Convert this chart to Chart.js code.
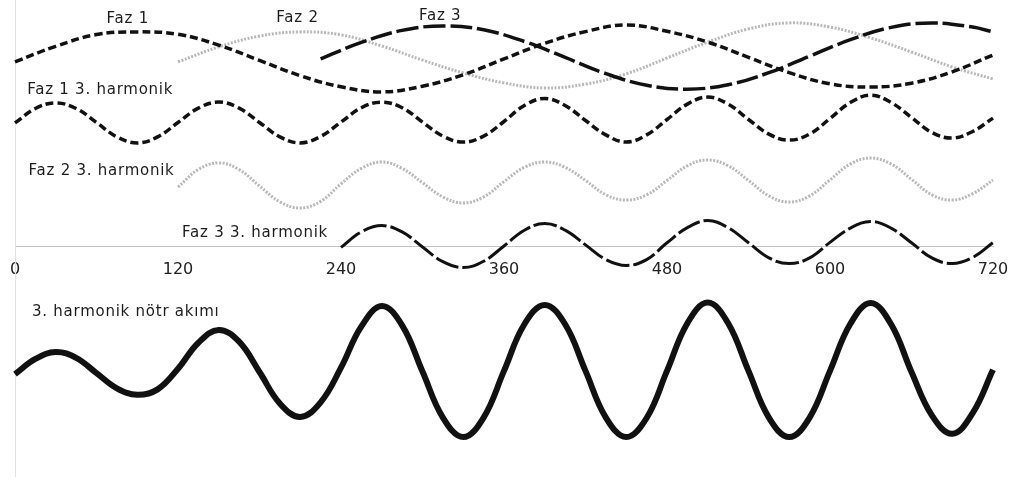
<!DOCTYPE html>
<html>
<head>
<meta charset="utf-8">
<script src="https://cdn.jsdelivr.net/npm/chart.js@4"></script>
<style>
html,body{margin:0;padding:0;background:#fff}
#wrap{width:1019px;height:477px}
</style>
</head>
<body>
<div id="wrap"><canvas id="harm" width="1019" height="477"></canvas></div>
<script>
// degrees
const fundDeg = [0,30,60,90,120,150,180,210,240,270,300,330,360,390,420,450,480,510,540,570,600,630,660,690,720];
const faz2Deg = [120,150,180,210,240,270,300,330,360,390,420,450,480,510,540,570,600,630,660,690,720];
const faz3Deg = [225,255,285,315,345,375,405,435,465,495,525,555,585,615,645,675,705,720];
const harmDeg = [0,15,30,45,60,75,90,105,120,135,150,165,180,195,210,225,240,255,270,285,300,315,330,345,
  360,375,390,405,420,435,450,465,480,495,510,525,540,555,570,585,600,615,630,645,660,675,690,705,720];
const xTicks = [0,120,240,360,480,600,720];

// fundamentals
const faz1 = [-0.13,0.39,0.78,0.87,0.79,0.43,-0.08,-0.59,-0.96,-1.13,-0.94,-0.56,-0.03,0.49,0.88,1.10,0.89,0.53,0.02,-0.49,-0.86,-0.97,-0.84,-0.46,0.10];
const faz2 = [-0.13,0.37,0.73,0.87,0.77,0.40,-0.07,-0.50,-0.83,-1.00,-0.87,-0.53,0.00,0.53,0.97,1.17,1.03,0.67,0.20,-0.30,-0.70];
const faz3 = [-0.03,0.52,0.92,1.07,0.94,0.55,0.02,-0.52,-0.91,-1.04,-0.89,-0.49,0.06,0.61,1.02,1.17,1.03,0.87];

// 3rd harmonics
const faz1H = [-0.02,0.70,0.98,0.70,0.00,-0.72,-1.02,-0.72,0.00,0.72,1.02,0.72,0.00,-0.72,-1.02,-0.70,0.02,0.74,1.02,0.74,0.02,-0.68,-0.98,-0.68,
  0.05,0.85,1.20,0.85,0.10,-0.62,-0.98,-0.62,0.15,0.92,1.27,0.92,0.15,-0.58,-0.88,-0.58,0.20,1.00,1.37,1.00,0.25,-0.50,-0.78,-0.45,0.22];
const faz2H = [-0.05,0.75,1.05,0.75,0.00,-0.72,-1.00,-0.70,0.10,0.80,1.09,0.80,0.15,-0.50,-0.77,-0.50,0.20,0.85,1.09,0.85,0.25,
  -0.40,-0.64,-0.40,0.25,0.92,1.18,0.92,0.25,-0.45,-0.73,-0.45,0.28,1.00,1.27,1.00,0.30,-0.40,-0.64,-0.35,0.27];
const faz3H = [-0.02,0.72,1.02,0.72,0.00,-0.70,-0.98,-0.68,0.05,0.80,1.12,0.80,0.10,-0.60,-0.88,-0.60,0.20,0.92,1.26,0.92,0.20,
  -0.52,-0.79,-0.52,0.22,0.90,1.21,0.90,0.20,-0.52,-0.79,-0.50,0.21];
const notr = [-0.10,0.60,0.92,0.65,-0.05,-0.75,-1.05,-0.80,0.15,1.35,1.94,1.40,0.00,-1.45,-2.07,-1.40,0.20,2.10,3.04,2.15,0.02,-2.10,-3.00,-2.10,
  0.05,2.20,3.09,2.20,0.05,-2.10,-3.00,-2.12,0.05,2.25,3.20,2.25,0.05,-2.10,-3.00,-2.10,0.05,2.22,3.18,2.20,0.00,-2.00,-2.85,-1.90,0.10];

const labelTexts = ['Faz 1','Faz 2','Faz 3','Faz 1 3. harmonik','Faz 2 3. harmonik','Faz 3 3. harmonik','3. harmonik nötr akımı'];
const labelSpots = [
  {x:83, axis:'yA', y:1.30, align:'center'},
  {x:208, axis:'yA', y:1.33, align:'center'},
  {x:313, axis:'yA', y:1.38, align:'center'},
  {x:9, axis:'yB', y:1.625, align:'left'},
  {x:10, axis:'yC', y:0.68, align:'left'},
  {x:123, axis:'yD', y:0.667, align:'left'},
  {x:12.5, axis:'yE', y:2.77, align:'left'}
];

const pts = (d, v) => d.map((x, i) => ({x: x, y: v[i]}));
const INK = '#111';
const GRAY = '#b8b8b8';

function band(weight, stackWeight, min, max){
  return {
    type:'linear', axis:'y', position:'left', stack:'bands', stackWeight, weight, min, max,
    ticks:{display:false}, grid:{display:false, drawTicks:false},
    border:{display:true, color:'#e2e2e2', width:1, dash:[4,9]}
  };
}

function line(label, data, axis, color, width, dash){
  return {label, data, yAxisID:axis, borderColor:color, borderWidth:width, borderDash:dash,
    pointRadius:0, fill:false, tension:0.4, clip:false, borderCapStyle:'butt'};
}

const textLabels = {
  id:'textLabels',
  afterDatasetsDraw(chart){
    const ctx = chart.ctx;
    const xs = chart.scales.x;
    ctx.save();
    ctx.font = '15px "DejaVu Sans"';
    ctx.letterSpacing = '0.75px';
    ctx.fillStyle = '#1c1c1c';
    ctx.textBaseline = 'middle';
    labelTexts.forEach((t, i) => {
      const s = labelSpots[i];
      ctx.textAlign = s.align;
      ctx.fillText(t, xs.getPixelForValue(s.x), chart.scales[s.axis].getPixelForValue(s.y));
    });
    ctx.restore();
  }
};

new Chart(document.getElementById('harm'), {
  type:'line',
  data:{datasets:[
    line('Faz 1', pts(fundDeg, faz1), 'yA', INK, 3.5, [8,4]),
    line('Faz 3', pts(faz3Deg, faz3), 'yA', INK, 3.5, [22,5]),
    line('Faz 1 3. harmonik', pts(harmDeg, faz1H), 'yB', INK, 3.5, [8,4]),
    line('Faz 3 3. harmonik', pts(harmDeg.slice(16), faz3H), 'yD', INK, 3, [24,4]),
    line('3. harmonik nötr akımı', pts(harmDeg, notr), 'yE', INK, 6, []),
    line('Faz 2', pts(faz2Deg, faz2), 'yA', GRAY, 3, [2,1.5]),
    line('Faz 2 3. harmonik', pts(harmDeg.slice(8), faz2H), 'yC', GRAY, 3, [2,1.5])
  ]},
  options:{
    responsive:false, animation:false, devicePixelRatio:1,
    layout:{padding:{left:15, right:26, top:0, bottom:0}},
    plugins:{legend:{display:false}, tooltip:{enabled:false}},
    scales:{
      x:{type:'linear', min:0, max:720, position:{yD:0},
        afterBuildTicks: s => { s.ticks = xTicks.map(v => ({value:v})); },
        afterFit: s => { s.paddingLeft = 0; s.paddingRight = 0; },
        ticks:{font:{family:'DejaVu Sans', size:16}, color:'#222', padding:13, maxRotation:0, autoSkip:false},
        grid:{display:false, drawTicks:false},
        border:{display:true, color:'#c4c4c4', width:1, dash:[3,2]}},
      yA: band(5, 105, -1.567, 1.933),
      yB: band(4, 50, -1.625, 0.875),
      yC: band(3, 61, -1.364, 1.409),
      yD: band(2, 74, -2.048, 1.476),
      yE: band(1, 187, -4.839, 3.779)
    }
  },
  plugins:[textLabels]
});
</script>
</body>
</html>
